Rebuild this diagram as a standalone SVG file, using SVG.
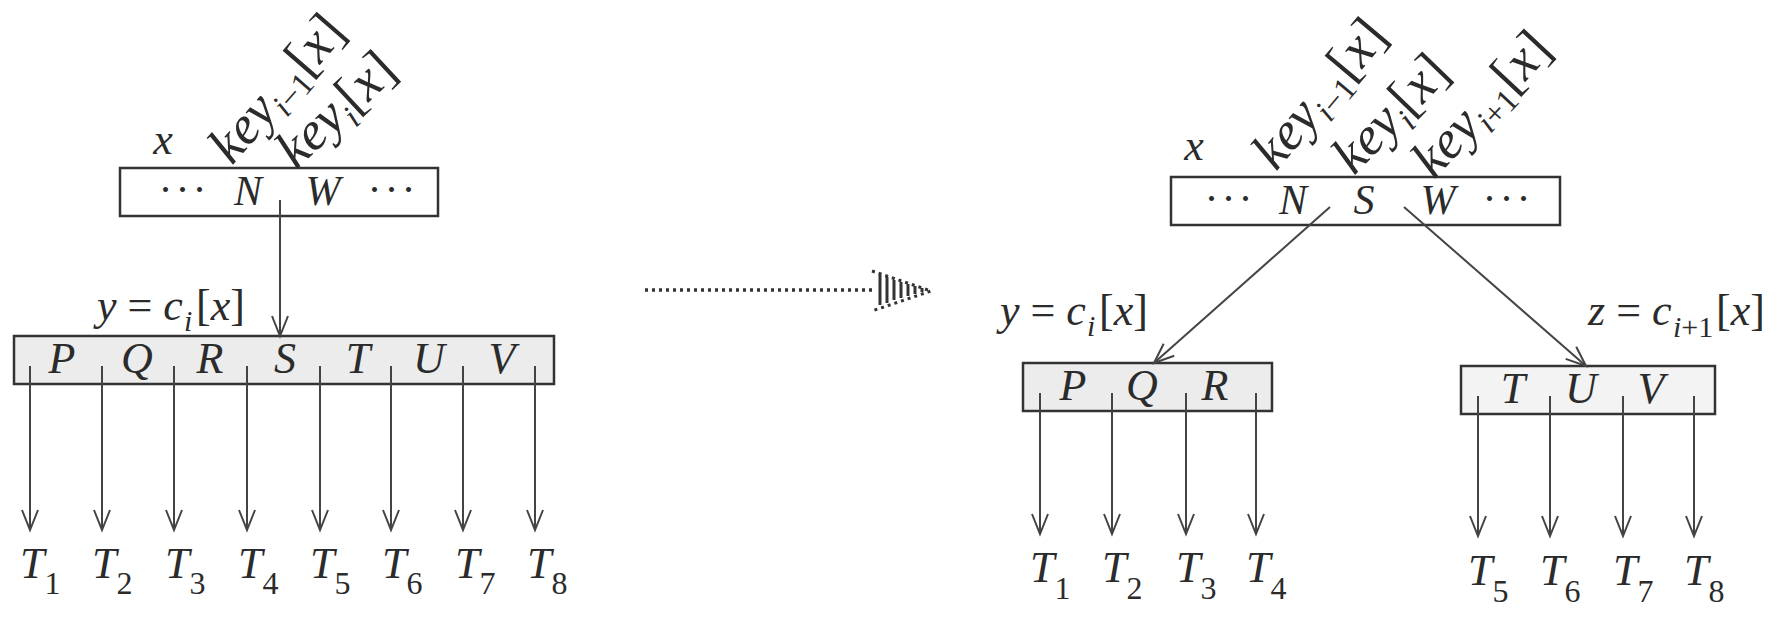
<svg xmlns="http://www.w3.org/2000/svg" width="1783" height="618" viewBox="0 0 1783 618">
<style>
  text { font-family: "Liberation Serif", "DejaVu Serif", serif; fill: #2b2b2b; }
  .big { font-size: 44px; font-style: italic; }
  .top { font-size: 42px; font-style: italic; }
  .lbl { font-size: 44px; font-style: italic; }
  .key { font-size: 54px; font-style: italic; }
  .sub { font-size: 33px; font-style: normal; }
  .lsub { font-size: 30px; font-style: italic; }
  .tsub { font-size: 32px; font-style: normal; }
  .dots { font-size: 42px; font-style: normal; letter-spacing: 3px; }
  .up { font-style: normal; }
  .it { font-style: italic; }
  .box { fill: #ffffff; stroke: #333333; stroke-width: 2.5; }
  .boxg { fill: #ececec; stroke: #333333; stroke-width: 2.5; }
  .edge { stroke: #444444; stroke-width: 2; fill: none; }
  .dotted { stroke: #333333; stroke-width: 3.5; stroke-dasharray: 3 4; fill: none; }
  .hatch { stroke: #333333; stroke-width: 3; }
</style>
<defs>
  <marker id="ah" markerUnits="userSpaceOnUse" markerWidth="26" markerHeight="22" viewBox="-22 -11 24 22" refX="0" refY="0" orient="auto">
    <path d="M-20,-8 L0,0 L-20,8" fill="none" stroke="#444444" stroke-width="2"/>
  </marker>
</defs>

<!-- LEFT: parent x -->
<g id="left-x">
  <rect class="box" x="120" y="168" width="318" height="48"/>
  <text class="dots" x="184" y="204" text-anchor="middle">···</text>
  <text class="top" x="248" y="205" text-anchor="middle">N</text>
  <text class="top" x="323" y="205" text-anchor="middle">W</text>
  <text class="dots" x="393" y="204" text-anchor="middle">···</text>
  <text class="lbl" x="163" y="154" text-anchor="middle">x</text>
  <text class="key" x="232" y="166" transform="rotate(-49 232 166)">key<tspan class="sub" dy="10"><tspan class="it">i</tspan>−1</tspan><tspan class="up" dy="-10">[</tspan>x<tspan class="up">]</tspan></text>
  <text class="key" x="296" y="170" transform="rotate(-43 296 170)">key<tspan class="sub it" dy="10">i</tspan><tspan class="up" dy="-10">[</tspan>x<tspan class="up">]</tspan></text>
</g>

<!-- LEFT: child y -->
<g id="left-y">
  <rect class="boxg" x="14" y="336" width="540" height="48"/>
  <text class="big" x="62" y="373" text-anchor="middle">P</text>
  <text class="big" x="137" y="373" text-anchor="middle">Q</text>
  <text class="big" x="210" y="373" text-anchor="middle">R</text>
  <text class="big" x="285" y="373" text-anchor="middle">S</text>
  <text class="big" x="358" y="373" text-anchor="middle">T</text>
  <text class="big" x="429" y="373" text-anchor="middle">U</text>
  <text class="big" x="502" y="373" text-anchor="middle">V</text>
  <text class="lbl" x="97" y="320">y<tspan class="up"> = </tspan>c</text>
  <text class="lsub" x="184" y="331">i</text>
  <text class="lbl" x="196" y="320" style="font-style:normal">[<tspan class="it">x</tspan>]</text>
</g>

<!-- LEFT: subtrees -->
<g id="left-subtrees">
  <text class="lbl" x="20" y="578">T<tspan class="tsub" dy="16">1</tspan></text>
  <text class="lbl" x="92" y="578">T<tspan class="tsub" dy="16">2</tspan></text>
  <text class="lbl" x="165" y="578">T<tspan class="tsub" dy="16">3</tspan></text>
  <text class="lbl" x="238" y="578">T<tspan class="tsub" dy="16">4</tspan></text>
  <text class="lbl" x="310" y="578">T<tspan class="tsub" dy="16">5</tspan></text>
  <text class="lbl" x="382" y="578">T<tspan class="tsub" dy="16">6</tspan></text>
  <text class="lbl" x="455" y="578">T<tspan class="tsub" dy="16">7</tspan></text>
  <text class="lbl" x="527" y="578">T<tspan class="tsub" dy="16">8</tspan></text>
</g>

<!-- RIGHT: parent x -->
<g id="right-x">
  <rect class="box" x="1171" y="177" width="389" height="48"/>
  <text class="dots" x="1230" y="213" text-anchor="middle">···</text>
  <text class="top" x="1293" y="214" text-anchor="middle">N</text>
  <text class="top" x="1364" y="214" text-anchor="middle">S</text>
  <text class="top" x="1438" y="214" text-anchor="middle">W</text>
  <text class="dots" x="1508" y="213" text-anchor="middle">···</text>
  <text class="lbl" x="1194" y="160" text-anchor="middle">x</text>
  <text class="key" x="1276" y="172" transform="rotate(-50 1276 172)">key<tspan class="sub" dy="10"><tspan class="it">i</tspan>−1</tspan><tspan class="up" dy="-10">[</tspan>x<tspan class="up">]</tspan></text>
  <text class="key" x="1354" y="176" transform="rotate(-46 1354 176)">key<tspan class="sub it" dy="10">i</tspan><tspan class="up" dy="-10">[</tspan>x<tspan class="up">]</tspan></text>
  <text class="key" x="1434" y="180" transform="rotate(-47 1434 180)">key<tspan class="sub" dy="10"><tspan class="it">i</tspan>+1</tspan><tspan class="up" dy="-10">[</tspan>x<tspan class="up">]</tspan></text>
</g>

<!-- RIGHT: child y -->
<g id="right-y">
  <rect class="boxg" x="1023" y="363" width="249" height="48"/>
  <text class="big" x="1073" y="400" text-anchor="middle">P</text>
  <text class="big" x="1142" y="400" text-anchor="middle">Q</text>
  <text class="big" x="1215" y="400" text-anchor="middle">R</text>
  <text class="lbl" x="1000" y="325">y<tspan class="up"> = </tspan>c</text>
  <text class="lsub" x="1087" y="336">i</text>
  <text class="lbl" x="1099" y="325" style="font-style:normal">[<tspan class="it">x</tspan>]</text>
</g>

<!-- RIGHT: child z -->
<g id="right-z">
  <rect class="boxg" x="1461" y="366" width="254" height="48" style="fill:#f3f3f3"/>
  <text class="big" x="1513" y="403" text-anchor="middle">T</text>
  <text class="big" x="1581" y="403" text-anchor="middle">U</text>
  <text class="big" x="1651" y="403" text-anchor="middle">V</text>
  <text class="lbl" x="1588" y="325">z<tspan class="up"> = </tspan>c</text>
  <text class="lsub" x="1673" y="337">i<tspan class="up">+1</tspan></text>
  <text class="lbl" x="1716" y="325" style="font-style:normal">[<tspan class="it">x</tspan>]</text>
</g>

<!-- RIGHT: subtrees -->
<g id="right-subtrees">
  <text class="lbl" x="1030" y="582">T<tspan class="tsub" dy="17">1</tspan></text>
  <text class="lbl" x="1102" y="582">T<tspan class="tsub" dy="17">2</tspan></text>
  <text class="lbl" x="1176" y="582">T<tspan class="tsub" dy="17">3</tspan></text>
  <text class="lbl" x="1246" y="582">T<tspan class="tsub" dy="17">4</tspan></text>
  <text class="lbl" x="1468" y="585">T<tspan class="tsub" dy="17">5</tspan></text>
  <text class="lbl" x="1540" y="585">T<tspan class="tsub" dy="17">6</tspan></text>
  <text class="lbl" x="1613" y="585">T<tspan class="tsub" dy="17">7</tspan></text>
  <text class="lbl" x="1684" y="585">T<tspan class="tsub" dy="17">8</tspan></text>
</g>

<!-- transformation arrow -->
<g id="transform-arrow">
  <line class="dotted" x1="645" y1="290" x2="874" y2="290"/>
  <path d="M872,271 L931,291 L872,311" fill="none" stroke="#333" stroke-width="3" stroke-dasharray="3 4"/>
  <line class="hatch" x1="880" y1="275" x2="880" y2="305"/>
  <line class="hatch" x1="887" y1="277" x2="887" y2="303"/>
  <line class="hatch" x1="894" y1="280" x2="894" y2="300"/>
  <line class="hatch" x1="901" y1="282" x2="901" y2="298"/>
  <line class="hatch" x1="908" y1="284" x2="908" y2="296"/>
  <line class="hatch" x1="915" y1="286" x2="915" y2="294"/>
  <line class="hatch" x1="922" y1="288" x2="922" y2="292"/>
</g>

<!-- connectors -->
<g id="connectors">
  <line class="edge" x1="280" y1="200" x2="280" y2="336" marker-end="url(#ah)"/>
  <line class="edge" x1="30" y1="366" x2="30" y2="530" marker-end="url(#ah)"/>
  <line class="edge" x1="102" y1="366" x2="102" y2="530" marker-end="url(#ah)"/>
  <line class="edge" x1="174" y1="366" x2="174" y2="530" marker-end="url(#ah)"/>
  <line class="edge" x1="247" y1="366" x2="247" y2="530" marker-end="url(#ah)"/>
  <line class="edge" x1="320" y1="366" x2="320" y2="530" marker-end="url(#ah)"/>
  <line class="edge" x1="391" y1="366" x2="391" y2="530" marker-end="url(#ah)"/>
  <line class="edge" x1="463" y1="366" x2="463" y2="530" marker-end="url(#ah)"/>
  <line class="edge" x1="535" y1="366" x2="535" y2="530" marker-end="url(#ah)"/>

  <line class="edge" x1="1330" y1="207" x2="1154" y2="363" marker-end="url(#ah)"/>
  <line class="edge" x1="1404" y1="207" x2="1586" y2="366" marker-end="url(#ah)"/>

  <line class="edge" x1="1040" y1="393" x2="1040" y2="534" marker-end="url(#ah)"/>
  <line class="edge" x1="1112" y1="393" x2="1112" y2="534" marker-end="url(#ah)"/>
  <line class="edge" x1="1186" y1="393" x2="1186" y2="534" marker-end="url(#ah)"/>
  <line class="edge" x1="1256" y1="393" x2="1256" y2="534" marker-end="url(#ah)"/>
  <line class="edge" x1="1478" y1="396" x2="1478" y2="536" marker-end="url(#ah)"/>
  <line class="edge" x1="1550" y1="396" x2="1550" y2="536" marker-end="url(#ah)"/>
  <line class="edge" x1="1623" y1="396" x2="1623" y2="536" marker-end="url(#ah)"/>
  <line class="edge" x1="1694" y1="396" x2="1694" y2="536" marker-end="url(#ah)"/>
</g>
</svg>
